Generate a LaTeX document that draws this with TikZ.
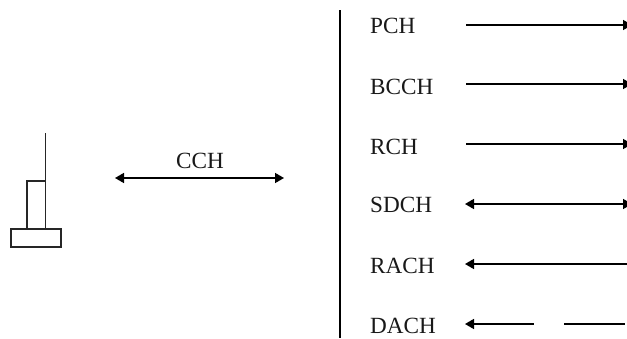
\documentclass[tikz,border=0pt]{standalone}
\usepackage{fontspec}
\setmainfont{Liberation Serif}
\usetikzlibrary{arrows.meta}
\tikzset{
  px/.style={x=1pt,y=-1pt},
  lab/.style={inner sep=0pt,anchor=base west,text=black!90,font=\fontsize{23.2}{25}\selectfont},
  ln/.style={draw=black,line width=1.6pt},
  thin box/.style={draw=black!85,line width=1.5pt,outer sep=0pt},
  tipped/.style={ln,-{Triangle[length=9pt,width=10pt]}},
  both tipped/.style={ln,{Triangle[length=9pt,width=10pt]}-{Triangle[length=9pt,width=10pt]}},
  left tipped/.style={ln,{Triangle[length=9pt,width=10pt]}-}
}
\begin{document}
\begin{tikzpicture}[px]
\useasboundingbox (0,0) rectangle (627,338);
\fill[white] (0,0) rectangle (627,338);
% antenna
\coordinate (antTop) at (45.5,133);
\coordinate (antFoot) at (45.5,181);
\draw[thin box] (antTop) -- (antFoot);
\node[thin box,inner sep=0pt,minimum width=18.5pt,minimum height=48pt,anchor=north west] (mast) at (27,181) {};
\node[thin box,inner sep=0pt,minimum width=50pt,minimum height=18pt,anchor=north west] (base) at (11,229) {};
% CCH
\node[lab] (cch) at (176,168) {CCH};
\coordinate (cchL) at (115,178);
\coordinate (cchR) at (284,178);
\draw[both tipped] (cchL) -- (cchR);
% divider
\coordinate (divT) at (340,10);
\coordinate (divB) at (340,338);
\draw[draw=black,line width=2.2pt] (divT) -- (divB);
% labels
\node[lab] (pch) at (370,33) {PCH};
\node[lab] (bcch) at (370,94) {BCCH};
\node[lab] (rch) at (370,154) {RCH};
\node[lab] (sdch) at (370,212) {SDCH};
\node[lab] (rach) at (370,273) {RACH};
\node[lab] (dach) at (370,333) {DACH};
% end points
\coordinate (a1) at (466,25);   \coordinate (b1) at (632,25);
\coordinate (a2) at (466,84);   \coordinate (b2) at (632,84);
\coordinate (a3) at (466,144);  \coordinate (b3) at (632,144);
\coordinate (a4) at (465,204);  \coordinate (b4) at (632,204);
\coordinate (a5) at (465,264);  \coordinate (b5) at (627,264);
\coordinate (a6) at (465,324);  \coordinate (c6) at (534,324);
\coordinate (d6) at (564,324);  \coordinate (b6) at (625,324);
\draw[tipped] (a1) -- (b1);
\draw[tipped] (a2) -- (b2);
\draw[tipped] (a3) -- (b3);
\draw[both tipped] (a4) -- (b4);
\draw[left tipped] (a5) -- (b5);
\draw[left tipped] (a6) -- (c6);
\draw[ln] (d6) -- (b6);
\end{tikzpicture}
\end{document}
